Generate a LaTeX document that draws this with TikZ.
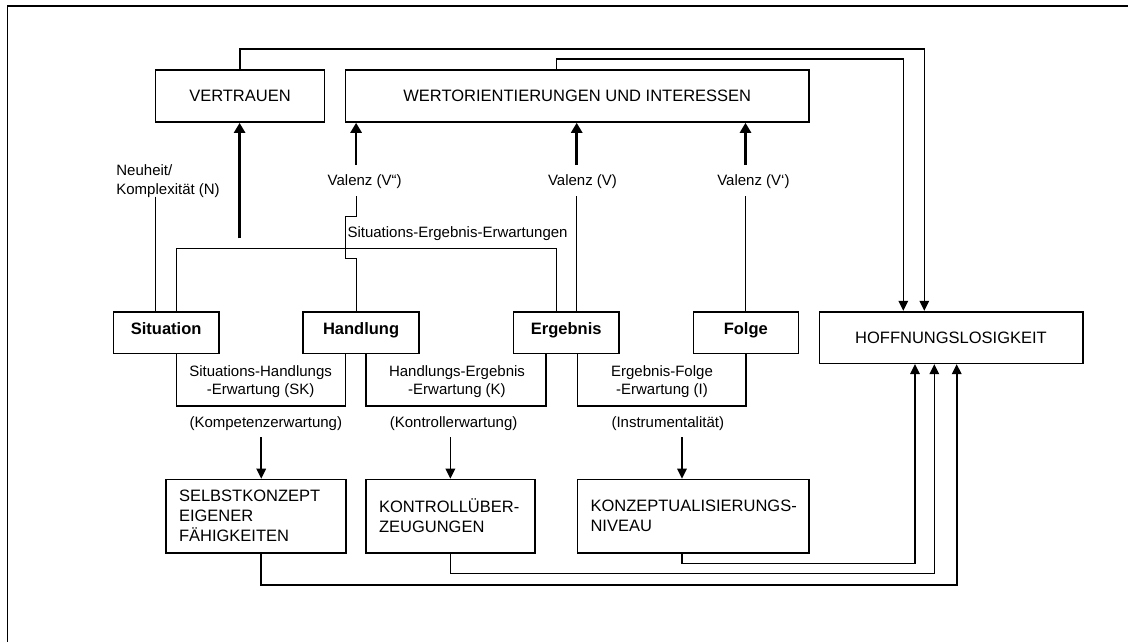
\documentclass[tikz,border=0pt]{standalone}
\usepackage{fontspec}
\setmainfont{Liberation Sans}
\usetikzlibrary{arrows.meta}
\begin{document}
\begin{tikzpicture}[x=1pt,y=-1pt,
  boxfont/.style={font=\fontsize{16.5}{20}\selectfont},
  lblfont/.style={font=\fontsize{15}{18.3}\selectfont},
  box/.style={draw, line width=1.6pt, inner sep=0pt, boxfont, text height=11.8pt, text depth=0pt},
  keybox/.style={box, font=\fontsize{16.5}{20}\selectfont\bfseries, text depth=7.4pt},
  plainbox/.style={draw, line width=1.6pt, inner sep=0pt},
  boxtext/.style={boxfont, inner sep=0pt, align=left, anchor=west, xshift=13.8pt},
  lbl/.style={lblfont, inner sep=0pt},
  frameline/.style={line width=1.6pt},
  thinline/.style={line width=1.2pt},
  bracket/.style={line width=1.6pt},
  uparrow/.style={line width=2.6pt, -{Triangle[length=10pt,width=11pt]}},
  arrow/.style={line width=1.6pt, -{Triangle[length=10pt,width=9.5pt]}},
]
\useasboundingbox (0,0) rectangle (1128,642);

% outer frame (only its top and left edges lie inside the page)
\draw[frameline] (1130,6.3) -- (7.3,6.3) -- (7.3,644);

% upper boxes
\node[box, minimum width=169pt, minimum height=52.3pt] (vert) at (240,95.9) {VERTRAUEN};
\node[box, minimum width=463.9pt, minimum height=52.2pt] (wert) at (577.25,95.9) {WERTORIENTIERUNGEN UND INTERESSEN};

% the chain situation - action - outcome - consequence
\node[keybox, minimum width=105.7pt, minimum height=41.6pt] (sit) at (166.15,332.5) {Situation};
\node[keybox, minimum width=115.8pt, minimum height=41.6pt] (hdl) at (361.1,332.5) {Handlung};
\node[keybox, minimum width=105.9pt, minimum height=41.6pt] (erg) at (566.25,332.5) {Ergebnis};
\node[keybox, minimum width=105pt, minimum height=41.6pt] (fol) at (745.8,332.5) {Folge};
\node[box, minimum width=263.4pt, minimum height=51.6pt] (hoff) at (951,337.5) {HOFFNUNGSLOSIGKEIT};

% lower boxes with left-aligned text
\node[plainbox, minimum width=179.9pt, minimum height=73.2pt] (selb) at (255.75,516.1) {};
\node[plainbox, minimum width=169.1pt, minimum height=73.2pt] (ktrl) at (450.35,516.1) {};
\node[plainbox, minimum width=231.7pt, minimum height=73.2pt] (konz) at (693.15,516.1) {};
\node[boxtext] (selbt) at (selb.west) {SELBSTKONZEPT\\EIGENER\\FÄHIGKEITEN};
\node[boxtext] (ktrlt) at (ktrl.west) {KONTROLLÜBER-\\ZEUGUNGEN};
\node[boxtext] (konzt) at (konz.west) {KONZEPTUALISIERUNGS-\\NIVEAU};

% labels
\node[lbl, anchor=base] (v2) at (364.7,185.7) {Valenz (V“)};
\node[lbl, anchor=base] (v1) at (582.5,185.7) {Valenz (V)};
\node[lbl, anchor=base] (v3) at (753.4,185.7) {Valenz (V‘)};
\node[lbl, anchor=base west] (selab) at (347.3,237.3) {Situations-Ergebnis-Erwartungen};
\node[lbl, align=left, anchor=north west] (neu) at (116.2,164.8) {Neuheit/\\Komplexität (N)};
\node[lbl, align=center] (sht) at (260.6,381.3) {Situations-Handlungs\\-Erwartung (SK)};
\node[lbl, align=center] (het) at (457,381.3) {Handlungs-Ergebnis\\-Erwartung (K)};
\node[lbl, align=center] (eft) at (662,381.3) {Ergebnis-Folge\\-Erwartung (I)};
\node[lbl, anchor=base] (kom) at (265.8,427.7) {(Kompetenzerwartung)};
\node[lbl, anchor=base] (kon) at (453.6,427.7) {(Kontrollerwartung)};
\node[lbl, anchor=base] (ins) at (667.8,427.7) {(Instrumentalität)};

% lane points
\coordinate (t1) at (924.3,49.0);
\coordinate (t2) at (903.3,59.3);
\coordinate (xse) at (556.5,0);
\coordinate (se1) at (176.3,248.3);
\coordinate (se2) at (556.5,248.3);
\coordinate (n1) at (155.4,196.7);
\coordinate (vt) at (239.6,238.3);
\coordinate (a2) at (356.1,165);
\coordinate (b2) at (356.1,196);
\coordinate (a1) at (576.7,165);
\coordinate (b1) at (576.7,196);
\coordinate (a3) at (745.5,165);
\coordinate (b3) at (745.5,196);
\coordinate (shl) at (176.3,406);
\coordinate (shr) at (345.3,406);
\coordinate (hel) at (365.8,406);
\coordinate (her) at (545.7,406);
\coordinate (efl) at (577.3,406);
\coordinate (efr) at (745.7,406);
\coordinate (k1) at (261.2,437);
\coordinate (k2) at (450.4,437);
\coordinate (k3) at (682,437);
\coordinate (h1) at (915,563.3);
\coordinate (h2) at (934.3,573.3);
\coordinate (h3) at (956.7,585);

% links from the top boxes to hopelessness
\draw[arrow] (vert.north) |- (t1) -- (t1 |- hoff.north);
\draw[arrow] (wert.north -| xse) |- (t2) -- (t2 |- hoff.north);

% valence and novelty links
\draw[uparrow] (vt) -- (vt |- vert.south);
\draw[uparrow] (a2) -- (a2 |- wert.south);
\draw[uparrow] (a1) -- (a1 |- wert.south);
\draw[uparrow] (a3) -- (a3 |- wert.south);
\draw[thinline] (n1) -- (n1 |- sit.north);
\draw[thinline] (b2) -- ++(0,20.7) -- ++(-10.8,0) -- ++(0,41.6) -- ++(10.8,0) -- (b2 |- hdl.north);
\draw[thinline] (b1) -- (b1 |- erg.north);
\draw[thinline] (b3) -- (b3 |- fol.north);
\draw[thinline] (se1 |- sit.north) -- (se1) -- (se2) -- (se2 |- erg.north);

% expectation brackets
\draw[bracket] (shl |- sit.south) -- (shl) -- (shr) -- (shr |- hdl.south);
\draw[bracket] (hel |- hdl.south) -- (hel) -- (her) -- (her |- erg.south);
\draw[bracket] (efl |- erg.south) -- (efl) -- (efr) -- (efr |- fol.south);

% expectations to the lower boxes
\draw[arrow] (k1) -- (k1 |- selb.north);
\draw[arrow] (k2) -- (k2 |- ktrl.north);
\draw[arrow] (k3) -- (k3 |- konz.north);

% lower boxes to hopelessness
\draw[arrow] (k3 |- konz.south) |- (h1) -- (h1 |- hoff.south);
\draw[arrow] (k2 |- ktrl.south) |- (h2) -- (h2 |- hoff.south);
\draw[arrow] (k1 |- selb.south) |- (h3) -- (h3 |- hoff.south);
\end{tikzpicture}
\end{document}
